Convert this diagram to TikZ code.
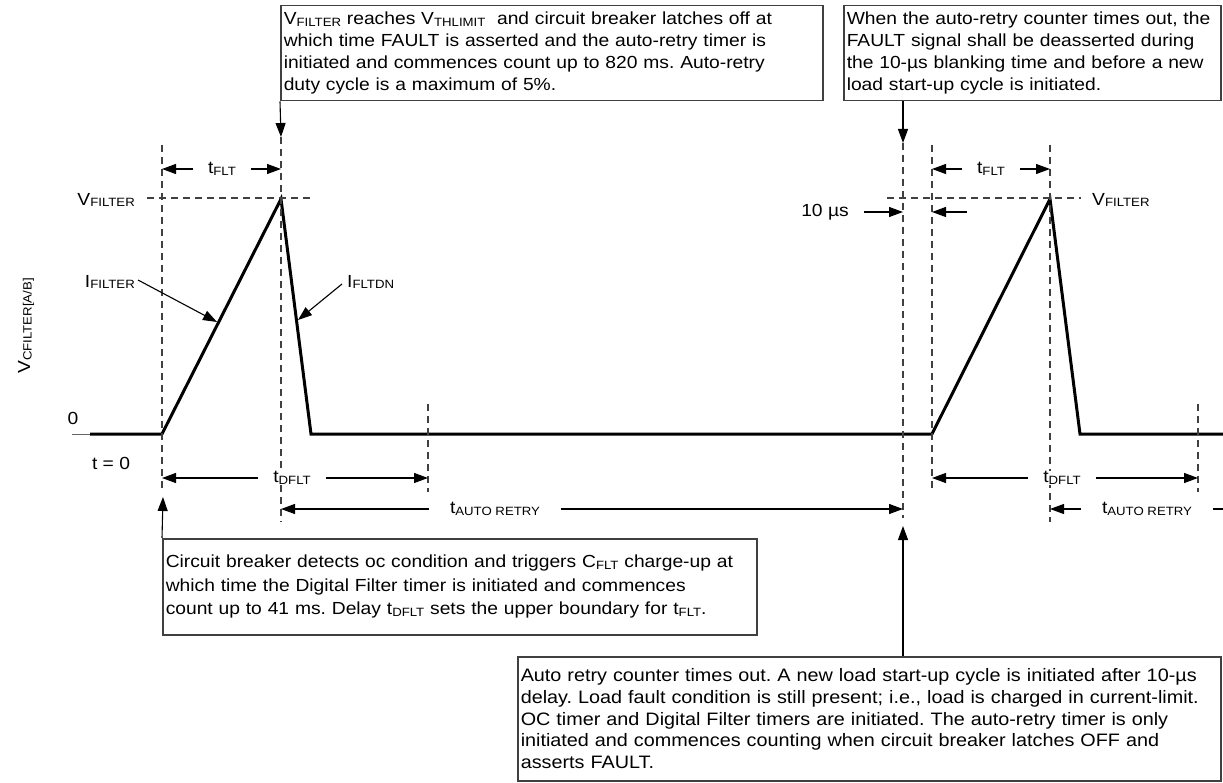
\documentclass[tikz,border=0pt]{standalone}
\usepackage{fontspec}
\setmainfont{Liberation Sans}[FakeStretch=1.1]
\usetikzlibrary{arrows.meta}
\usetikzlibrary{positioning}
\usetikzlibrary{calc}
\frenchspacing

\newcommand{\sbs}[1]{\raisebox{-1.5pt}{\fontsize{12}{12}\selectfont #1}}

\begin{document}
\begin{tikzpicture}[x=1pt,y=-1pt,
  wave/.style={line width=3pt},
  guide/.style={dash pattern=on 7pt off 5pt, line width=1.1pt, black!75},
  dim/.style={-{Triangle[length=14pt,width=10pt]}, line width=1.1pt},
  note/.style={draw=black!75, line width=1.5pt, anchor=north west, align=left,
    inner xsep=3pt, inner ysep=2pt, font=\fontsize{17.5}{22}\selectfont},
  lbl/.style={font=\fontsize{17.5}{20}\selectfont, inner sep=1pt, fill=white}
]
\useasboundingbox (0,0) rectangle (1223,783);

% waveform
\coordinate (axis) at (72,434);
\coordinate (s0) at (90,434);
\coordinate (r1) at (162,434);
\coordinate (p1) at (281,199);
\coordinate (f1) at (311,434);
\coordinate (r2) at (932,434);
\coordinate (p2) at (1050,199);
\coordinate (f2) at (1080,434);
\coordinate (e0) at (1223,434);
\draw[line width=1pt, black!60] (axis) -- (s0);
\draw[wave] (s0) -- (r1) -- (p1) -- (f1) -- (r2) -- (p2) -- (f2) -- (e0);

% dashed guides
\foreach \x/\ya/\yb in {162/145/492, 281/137/522, 428/404/492, 903/143/518,
    932/145/492, 1050/145/522, 1198/404/492}
  \draw[guide] (\x,\ya) -- (\x,\yb);
\draw[guide] (147,198) -- (312,198);
\draw[guide] (887,198) -- (1081,198);

% notes
\node[note, text width=536pt, minimum height=95pt] (nReach) at (280,5)
  {V\sbs{FILTER} reaches V\sbs{THLIMIT}\ \ and circuit breaker latches off at\\
   which time FAULT is asserted and the auto-retry timer is\\
   initiated and commences count up to 820 ms. Auto-retry\\
   duty cycle is a maximum of 5\%.};
\node[note, text width=371pt, minimum height=95pt] (nClear) at (843,5)
  {When the auto-retry counter times out, the\\
   FAULT signal shall be deasserted during\\
   the 10-µs blanking time and before a new\\
   load start-up cycle is initiated.};
\node[note, text width=588pt, minimum height=96pt,
  font=\fontsize{17.5}{23.5}\selectfont] (nDetect) at (162,538)
  {Circuit breaker detects oc condition and triggers C\sbs{FLT} charge-up at\\
   which time the Digital Filter timer is initiated and commences\\
   count up to 41 ms. Delay t\sbs{DFLT} sets the upper boundary for t\sbs{FLT}.};
\node[note, text width=697pt, minimum height=124pt,
  font=\fontsize{18}{21.7}\selectfont] (nTimeout) at (517,656)
  {Auto retry counter times out. A new load start-up cycle is initiated after 10-µs\\
   delay. Load fault condition is still present; i.e., load is charged in current-limit.\\
   OC timer and Digital Filter timers are initiated. The auto-retry timer is only\\
   initiated and commences counting when circuit breaker latches OFF and\\
   asserts FAULT.};

\coordinate (aReach) at (281,137);
\coordinate (aClear) at (903,143);
\coordinate (aDetect) at (163,497);
\coordinate (aTimeout) at (903,526);
\draw[dim] (nReach.south west) -- (aReach);
\draw[dim] (nClear.south -| aClear) -- (aClear);
\draw[dim] (nDetect.north west) -- (aDetect);
\draw[dim] (nTimeout.north -| aTimeout) -- (aTimeout);

% labels
\node[lbl, rotate=90] (vAxis) at (26,326) {V\sbs{CFILTER[A/B]}};
\node[lbl] (zero) at (73,418) {0};
\node[lbl] (tzero) at (111,463) {t = 0};
\node[lbl, anchor=east] (vF1) at (136,200) {V\sbs{FILTER}};
\node[lbl, anchor=west] (vF2) at (1091,200) {V\sbs{FILTER}};
\node[lbl, anchor=east] (iF) at (136,282) {I\sbs{FILTER}};
\node[lbl, anchor=west] (iD) at (346,282) {I\sbs{FLTDN}};
\draw[dim] ([xshift=2pt,yshift=2pt]iF.east) -- (217,322);
\draw[dim] ([xshift=-4pt,yshift=-2pt]iD.west) -- (298,320);

% dimension arrows
\node[lbl] (tF1) at (222,169) {t\sbs{FLT}};
\draw[dim] ([xshift=-14pt]tF1.west) -- (tF1 -| r1);
\draw[dim] ([xshift=14pt]tF1.east) -- (tF1 -| p1);
\node[lbl] (tF2) at (991,169) {t\sbs{FLT}};
\draw[dim] ([xshift=-14pt]tF2.west) -- (tF2 -| r2);
\draw[dim] ([xshift=14pt]tF2.east) -- (tF2 -| p2);

\node[lbl] (tBlank) at (825,212) {10 µs};
\draw[dim] ([xshift=14pt]tBlank.east) -- (tBlank -| aClear);
\draw[dim] (967,212) -- (tBlank -| r2);

\coordinate (d1) at (428,478);
\coordinate (d2) at (1198,478);
\node[lbl] (tD1) at (292,478) {t\sbs{DFLT}};
\draw[dim] ([xshift=-14pt]tD1.west) -- (tD1 -| r1);
\draw[dim] ([xshift=14pt]tD1.east) -- (d1);
\node[lbl] (tD2) at (1062,478) {t\sbs{DFLT}};
\draw[dim] ([xshift=-14pt]tD2.west) -- (tD2 -| r2);
\draw[dim] ([xshift=14pt]tD2.east) -- (d2);

\node[lbl] (tA1) at (495,509) {t\sbs{AUTO RETRY}};
\draw[dim] ([xshift=-20pt]tA1.west) -- (tA1 -| p1);
\draw[dim] ([xshift=20pt]tA1.east) -- (tA1 -| aClear);
\node[lbl] (tA2) at (1147,509) {t\sbs{AUTO RETRY}};
\draw[dim] ([xshift=-20pt]tA2.west) -- (tA2 -| p2);
\draw[line width=1.1pt] ([xshift=20pt]tA2.east) -- (tA2 -| e0);
\end{tikzpicture}
\end{document}
